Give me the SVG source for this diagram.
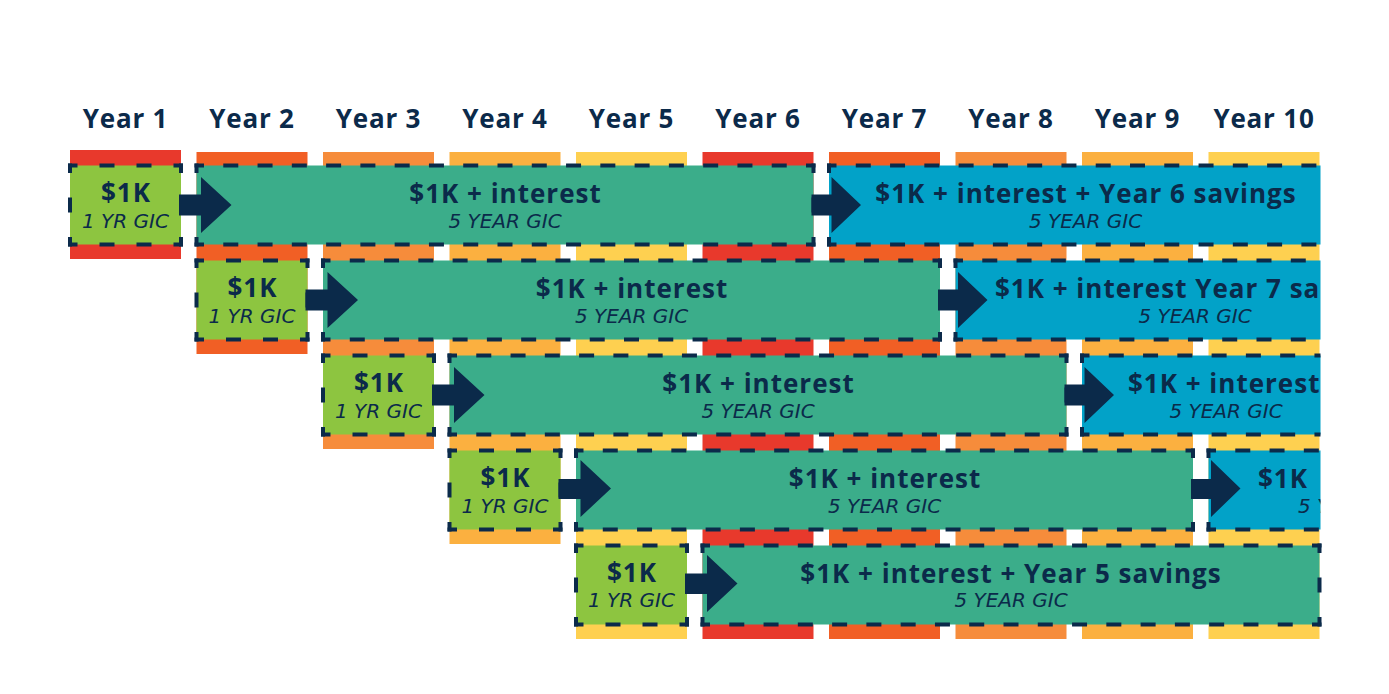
<svg xmlns="http://www.w3.org/2000/svg" width="1389" height="694" viewBox="0 0 1389 694">
<defs>
<style>
.hdr{font-family:"Open Sans","Liberation Sans",sans-serif;font-weight:700;font-size:26px;letter-spacing:0.8px;fill:#0b2a4a;text-anchor:middle}
.t1{font-family:"Open Sans","Liberation Sans",sans-serif;font-weight:700;font-size:26px;letter-spacing:1px;fill:#0b2a4a;text-anchor:middle}
.t2{font-family:"DejaVu Sans","Open Sans",sans-serif;font-style:oblique;font-weight:400;font-size:20px;fill:#0b2a4a;text-anchor:middle}
.st{text-anchor:start}
.green{fill:#8dc540}
.teal{fill:#3bad8a}
.blue{fill:#02a2c8}
.c0{fill:#e8392c}
.c1{fill:#f15f25}
.c2{fill:#f68c3b}
.c3{fill:#fbb040}
.c4{fill:#fed050}
.dash{fill:none;stroke:#0b2a4a;stroke-width:4;stroke-linecap:square;stroke-dashoffset:5.5}
.dgh{stroke-dasharray:11 26}
.dlh{stroke-dasharray:11 23.2778}
.dv{stroke-dasharray:11 28.5}
.arrow{fill:#0b2a4a}
</style>
<clipPath id="clipR"><rect x="0" y="0" width="1320.5" height="694"/></clipPath>
</defs>
<rect x="0" y="0" width="1389" height="694" fill="#ffffff"/>

<g id="headers">
<text class="hdr" x="125.5" y="128">Year 1</text>
<text class="hdr" x="252" y="128">Year 2</text>
<text class="hdr" x="378.5" y="128">Year 3</text>
<text class="hdr" x="505" y="128">Year 4</text>
<text class="hdr" x="631.5" y="128">Year 5</text>
<text class="hdr" x="758" y="128">Year 6</text>
<text class="hdr" x="884.5" y="128">Year 7</text>
<text class="hdr" x="1011" y="128">Year 8</text>
<text class="hdr" x="1137.5" y="128">Year 9</text>
<text class="hdr" x="1264" y="128">Year 10</text>
</g>

<g id="columns">
<rect class="c0" x="70" y="150" width="111" height="109"/>
<rect class="c1" x="196.5" y="152" width="111" height="202"/>
<rect class="c2" x="323" y="152" width="111" height="297"/>
<rect class="c3" x="449.5" y="152" width="111" height="392"/>
<rect class="c4" x="576" y="152" width="111" height="487"/>
<rect class="c0" x="702.5" y="152" width="111" height="487"/>
<rect class="c1" x="829" y="152" width="111" height="487"/>
<rect class="c2" x="955.5" y="152" width="111" height="487"/>
<rect class="c3" x="1082" y="152" width="111" height="487"/>
<rect class="c4" x="1208.5" y="152" width="111" height="487"/>
</g>

<!-- Row 1 -->
<g id="r1-gic1">
<rect class="green" x="70" y="165.5" width="111" height="79"/>
<path class="dash dgh" d="M70 165.5h111M70 244.5h111"/>
<path class="dash dv" d="M70 165.5v79M181 165.5v79"/>
<text class="t1" x="126" y="202">$1K</text>
<text class="t2" x="125.5" y="227.5">1 YR GIC</text>
</g>
<g id="r1-gic5">
<rect class="teal" x="196.5" y="165.5" width="617" height="79"/>
<path class="dash dlh" d="M196.5 165.5h617M196.5 244.5h617"/>
<path class="dash dv" d="M196.5 165.5v79M813.5 165.5v79"/>
<text class="t1" x="505.5" y="202.5">$1K + interest</text>
<text class="t2" x="505" y="227.5">5 YEAR GIC</text>
</g>
<g id="r1-next" clip-path="url(#clipR)">
<rect class="blue" x="829" y="165.5" width="617" height="79"/>
<path class="dash dlh" d="M829 165.5h617M829 244.5h617"/>
<path class="dash dv" d="M829 165.5v79"/>
<text class="t1" x="1086" y="202.5">$1K + interest + Year 6 savings</text>
<text class="t2" x="1085.5" y="227.5">5 YEAR GIC</text>
</g>

<!-- Row 2 -->
<g id="r2-gic1">
<rect class="green" x="196.5" y="260.5" width="111" height="79"/>
<path class="dash dgh" d="M196.5 260.5h111M196.5 339.5h111"/>
<path class="dash dv" d="M196.5 260.5v79M307.5 260.5v79"/>
<text class="t1" x="252.5" y="297">$1K</text>
<text class="t2" x="252" y="322.5">1 YR GIC</text>
</g>
<g id="r2-gic5">
<rect class="teal" x="323" y="260.5" width="617" height="79"/>
<path class="dash dlh" d="M323 260.5h617M323 339.5h617"/>
<path class="dash dv" d="M323 260.5v79M940 260.5v79"/>
<text class="t1" x="632" y="297.5">$1K + interest</text>
<text class="t2" x="631.5" y="322.5">5 YEAR GIC</text>
</g>
<g id="r2-next" clip-path="url(#clipR)">
<rect class="blue" x="955.5" y="260.5" width="617" height="79"/>
<path class="dash dlh" d="M955.5 260.5h617M955.5 339.5h617"/>
<path class="dash dv" d="M955.5 260.5v79"/>
<text class="t1 st" x="995" y="297.5">$1K + interest Year 7 sa</text>
<text class="t2" x="1195" y="322.5">5 YEAR GIC</text>
</g>

<!-- Row 3 -->
<g id="r3-gic1">
<rect class="green" x="323" y="355.5" width="111" height="79"/>
<path class="dash dgh" d="M323 355.5h111M323 434.5h111"/>
<path class="dash dv" d="M323 355.5v79M434 355.5v79"/>
<text class="t1" x="379" y="392">$1K</text>
<text class="t2" x="378.5" y="417.5">1 YR GIC</text>
</g>
<g id="r3-gic5">
<rect class="teal" x="449.5" y="355.5" width="617" height="79"/>
<path class="dash dlh" d="M449.5 355.5h617M449.5 434.5h617"/>
<path class="dash dv" d="M449.5 355.5v79M1066.5 355.5v79"/>
<text class="t1" x="758.5" y="392.5">$1K + interest</text>
<text class="t2" x="758" y="417.5">5 YEAR GIC</text>
</g>
<g id="r3-next" clip-path="url(#clipR)">
<rect class="blue" x="1082" y="355.5" width="617" height="79"/>
<path class="dash dlh" d="M1082 355.5h617M1082 434.5h617"/>
<path class="dash dv" d="M1082 355.5v79"/>
<text class="t1 st" x="1128" y="392.5">$1K + interest</text>
<text class="t2" x="1226" y="417.5">5 YEAR GIC</text>
</g>

<!-- Row 4 -->
<g id="r4-gic1">
<rect class="green" x="449.5" y="450.5" width="111" height="79"/>
<path class="dash dgh" d="M449.5 450.5h111M449.5 529.5h111"/>
<path class="dash dv" d="M449.5 450.5v79M560.5 450.5v79"/>
<text class="t1" x="505.5" y="487">$1K</text>
<text class="t2" x="505" y="512.5">1 YR GIC</text>
</g>
<g id="r4-gic5">
<rect class="teal" x="576" y="450.5" width="617" height="79"/>
<path class="dash dlh" d="M576 450.5h617M576 529.5h617"/>
<path class="dash dv" d="M576 450.5v79M1193 450.5v79"/>
<text class="t1" x="885" y="487.5">$1K + interest</text>
<text class="t2" x="884.5" y="512.5">5 YEAR GIC</text>
</g>
<g id="r4-next" clip-path="url(#clipR)">
<rect class="blue" x="1208.5" y="450.5" width="617" height="79"/>
<path class="dash dlh" d="M1208.5 450.5h617M1208.5 529.5h617"/>
<path class="dash dv" d="M1208.5 450.5v79"/>
<text class="t1 st" x="1258" y="487.5">$1K</text>
<text class="t2 st" x="1298" y="512.5">5 Y</text>
</g>

<!-- Row 5 -->
<g id="r5-gic1">
<rect class="green" x="576" y="545.5" width="111" height="79"/>
<path class="dash dgh" d="M576 545.5h111M576 624.5h111"/>
<path class="dash dv" d="M576 545.5v79M687 545.5v79"/>
<text class="t1" x="632" y="582">$1K</text>
<text class="t2" x="631.5" y="607">1 YR GIC</text>
</g>
<g id="r5-gic5">
<rect class="teal" x="702.5" y="545.5" width="617" height="79"/>
<path class="dash dlh" d="M702.5 545.5h617M702.5 624.5h617"/>
<path class="dash dv" d="M702.5 545.5v79M1319.5 545.5v79"/>
<text class="t1" x="1011" y="582.5">$1K + interest + Year 5 savings</text>
<text class="t2" x="1011" y="607">5 YEAR GIC</text>
</g>

<g id="connectors">
<path class="arrow" d="M179 194.5H201V177L231.5 205L201 233V215.5H179Z"/>
<path class="arrow" d="M811.5 194.5H831.5V177L861 205L831.5 233V215.5H811.5Z"/>
<path class="arrow" d="M305.5 289.5H327.5V272L358 300L327.5 328V310.5H305.5Z"/>
<path class="arrow" d="M938 289.5H958V272L987.5 300L958 328V310.5H938Z"/>
<path class="arrow" d="M432 384.5H454V367L484.5 395L454 423V405.5H432Z"/>
<path class="arrow" d="M1064.5 384.5H1084.5V367L1114 395L1084.5 423V405.5H1064.5Z"/>
<path class="arrow" d="M558.5 479H580.5V460L611 488.5L580.5 517V499H558.5Z"/>
<path class="arrow" d="M1191 479H1211V460L1240.5 488.5L1211 517V499H1191Z"/>
<path class="arrow" d="M685 573.5H707V555L737.5 583.5L707 612V594H685Z"/>
</g>
</svg>
